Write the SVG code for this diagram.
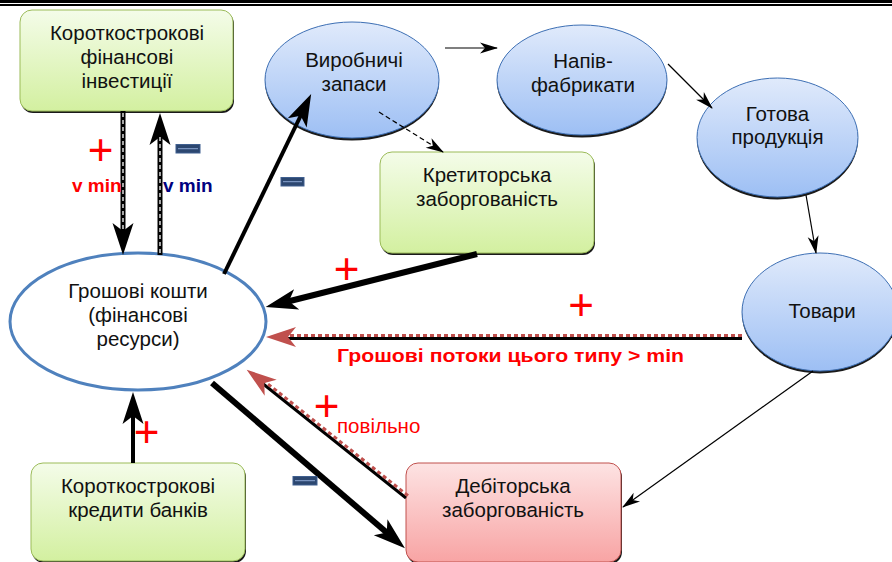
<svg xmlns="http://www.w3.org/2000/svg" width="892" height="562" viewBox="0 0 892 562">
<defs>
<linearGradient id="gGreen" x1="0" y1="0" x2="0" y2="1"><stop offset="0" stop-color="#f4fce9"/><stop offset="1" stop-color="#d3f0a0"/></linearGradient>
<linearGradient id="gBlue" x1="0" y1="0" x2="0" y2="1"><stop offset="0" stop-color="#e0eafb"/><stop offset="1" stop-color="#9dbff4"/></linearGradient>
<linearGradient id="gPink" x1="0" y1="0" x2="0" y2="1"><stop offset="0" stop-color="#fde3e3"/><stop offset="1" stop-color="#f8a4a4"/></linearGradient>
<marker id="hd" markerUnits="userSpaceOnUse" markerWidth="32" markerHeight="21" refX="11" refY="10.5" orient="auto" overflow="visible"><path d="M0,0 L32,10.5 L0,21 L8,10.5 z" fill="#000"/></marker>
<marker id="hdRed" markerUnits="userSpaceOnUse" markerWidth="30" markerHeight="20" refX="10" refY="10" orient="auto" overflow="visible"><path d="M0,0 L30,10 L0,20 L8,10 z" fill="#c0504d"/></marker>
<marker id="thin" markerUnits="userSpaceOnUse" markerWidth="18" markerHeight="11" refX="17" refY="5.5" orient="auto" overflow="visible"><path d="M0,0 L18,5.5 L0,11 L5,5.5 z" fill="#000"/></marker>
<style>
.t{font-family:"Liberation Sans",Arial,sans-serif;font-size:20.5px;fill:#111;text-anchor:middle}
.box{stroke-width:1}
.gbox{fill:url(#gGreen);stroke:#9bbb59}
.pbox{fill:url(#gPink);stroke:#c0504d}
.ell{fill:url(#gBlue);stroke:#3d6fb4;stroke-width:1}
.sh{fill:#1a1a1a}
.plus{font-family:"Liberation Sans",Arial,sans-serif;font-size:44px;fill:#ff0000;text-anchor:middle}
.minus{fill:#2c4770;stroke:#3f5f8f;stroke-width:1}
.minl{stroke:#8aa6d2;stroke-width:1}
.thk{stroke:#000;fill:none}
.thinl{stroke:#000;stroke-width:1.2;fill:none}
.wd{stroke:#fff;stroke-width:1.3;stroke-dasharray:4 3;fill:none}
.rd{stroke:#c0504d;stroke-width:3;stroke-dasharray:4 3;fill:none}
.lbl{font-family:"Liberation Sans",Arial,sans-serif;font-weight:bold;font-size:19px}
</style>
</defs>
<rect x="0" y="0" width="892" height="562" fill="#fff"/>
<rect x="0" y="0" width="892" height="3" fill="#000"/>
<rect x="0" y="4" width="892" height="2" fill="#000"/>

<g id="n-invest">
<rect class="sh" x="21" y="12" width="213" height="101" rx="12"/>
<rect class="gbox box" x="20" y="10" width="213" height="101" rx="12"/>
<text class="t" x="127" y="40">Короткострокові</text>
<text class="t" x="127" y="64">фінансові</text>
<text class="t" x="127" y="88">інвестиції</text>
</g>

<g id="n-money">
<ellipse cx="138" cy="321.5" rx="128" ry="68.5" fill="#fff" stroke="#4f81bd" stroke-width="3"/>
<text class="t" x="138" y="298">Грошові кошти</text>
<text class="t" x="138" y="322">(фінансові</text>
<text class="t" x="138" y="346">ресурси)</text>
</g>

<g id="n-credit">
<rect class="sh" x="32" y="465" width="214" height="98" rx="12"/>
<rect class="gbox box" x="31" y="463" width="214" height="98" rx="12"/>
<text class="t" x="138" y="493">Короткострокові</text>
<text class="t" x="138" y="517">кредити банків</text>
</g>

<g id="n-stock">
<ellipse class="sh" cx="352" cy="82.5" rx="87" ry="58"/>
<ellipse class="ell" cx="352" cy="80" rx="87" ry="58"/>
<text class="t" x="354" y="67">Виробничі</text>
<text class="t" x="354" y="91">запаси</text>
</g>

<g id="n-semi">
<ellipse class="sh" cx="582" cy="82.5" rx="85" ry="55"/>
<ellipse class="ell" cx="582" cy="80" rx="85" ry="55"/>
<text class="t" x="583" y="68">Напів-</text>
<text class="t" x="583" y="92">фабрикати</text>
</g>

<g id="n-ready">
<ellipse class="sh" cx="777.5" cy="140" rx="80.5" ry="59.5"/>
<ellipse class="ell" cx="777.5" cy="137.5" rx="80.5" ry="59.5"/>
<text class="t" x="777.5" y="121">Готова</text>
<text class="t" x="777.5" y="144">продукція</text>
</g>

<g id="n-goods">
<ellipse class="sh" cx="820" cy="314.5" rx="78" ry="59"/>
<ellipse class="ell" cx="820" cy="312" rx="78" ry="59"/>
<text class="t" x="822" y="318">Товари</text>
</g>

<g id="n-payable">
<rect class="sh" x="381" y="154" width="214" height="101" rx="12"/>
<rect class="gbox box" x="380" y="152" width="214" height="101" rx="12"/>
<text class="t" x="487" y="182">Кретиторська</text>
<text class="t" x="487" y="206">заборгованість</text>
</g>

<g id="n-receivable">
<rect class="sh" x="407" y="465" width="215" height="99" rx="12"/>
<rect class="pbox box" x="406" y="463" width="215" height="99" rx="12"/>
<text class="t" x="513" y="493">Дебіторська</text>
<text class="t" x="513" y="517">заборгованість</text>
</g>

<g id="connectors">
<line class="thk" x1="123" y1="111" x2="123" y2="234" stroke-width="5" marker-end="url(#hd)"/>
<line class="wd" x1="123" y1="113" x2="123" y2="232"/>
<line class="thk" x1="160" y1="255" x2="160" y2="134" stroke-width="5" marker-end="url(#hd)"/>
<line class="wd" x1="160" y1="253" x2="160" y2="136"/>
<line class="thk" x1="133" y1="463" x2="133" y2="413" stroke-width="4" marker-end="url(#hd)"/>
<line class="thk" x1="224" y1="274" x2="302" y2="113" stroke-width="4" marker-end="url(#hd)"/>
<line class="thk" x1="477" y1="254" x2="286" y2="302" stroke-width="6" marker-end="url(#hd)"/>
<line class="thk" x1="212" y1="383" x2="389" y2="534.5" stroke-width="6" marker-end="url(#hd)"/>
<line class="thk" x1="742" y1="338.5" x2="287" y2="338.5" stroke-width="3"/>
<line class="rd" x1="742" y1="335.5" x2="287" y2="335.5"/>
<line x1="287" y1="337" x2="286" y2="337" stroke="none" marker-end="url(#hdRed)"/>
<line class="thk" x1="406" y1="498" x2="262.6" y2="383.5" stroke-width="3"/>
<line class="rd" x1="408" y1="495.7" x2="264.5" y2="381.2"/>
<line x1="263.5" y1="382.3" x2="262.7" y2="381.7" stroke="none" marker-end="url(#hdRed)"/>
<line class="thinl" x1="379" y1="112" x2="443" y2="152" stroke-dasharray="5 3" marker-end="url(#thin)"/>
<line class="thinl" x1="445" y1="48" x2="497" y2="48" marker-end="url(#thin)"/>
<line class="thinl" x1="668" y1="64" x2="712" y2="108" marker-end="url(#thin)"/>
<line class="thinl" x1="806" y1="195" x2="816" y2="253" marker-end="url(#thin)"/>
<line class="thinl" x1="813" y1="371" x2="623" y2="507" marker-end="url(#thin)"/>
</g>

<g id="labels">
<text class="plus" x="100.5" y="165">+</text>
<text class="plus" x="346.5" y="284">+</text>
<text class="plus" x="581" y="320">+</text>
<text class="plus" x="326.5" y="421">+</text>
<text class="plus" x="146.5" y="447">+</text>
<rect class="minus" x="176" y="144.5" width="24" height="8.5"/>
<line class="minl" x1="178" y1="148.7" x2="198" y2="148.7"/>
<rect class="minus" x="281" y="177.5" width="23" height="8.5"/>
<line class="minl" x1="283" y1="181.7" x2="302" y2="181.7"/>
<rect class="minus" x="293" y="476.5" width="24" height="8.5"/>
<line class="minl" x1="295" y1="480.7" x2="315" y2="480.7"/>
<text class="lbl" x="72" y="192" fill="#ff0000">v min</text>
<text class="lbl" x="163" y="192" fill="#000080">v min</text>
<text class="lbl" x="337" y="362" fill="#ff0000" font-size="20" textLength="347" lengthAdjust="spacingAndGlyphs">Грошові потоки цього типу &gt; min</text>
<text x="337" y="433" font-family="Liberation Sans, Arial, sans-serif" font-size="20.5" fill="#ff0000">повільно</text>
</g>
</svg>
